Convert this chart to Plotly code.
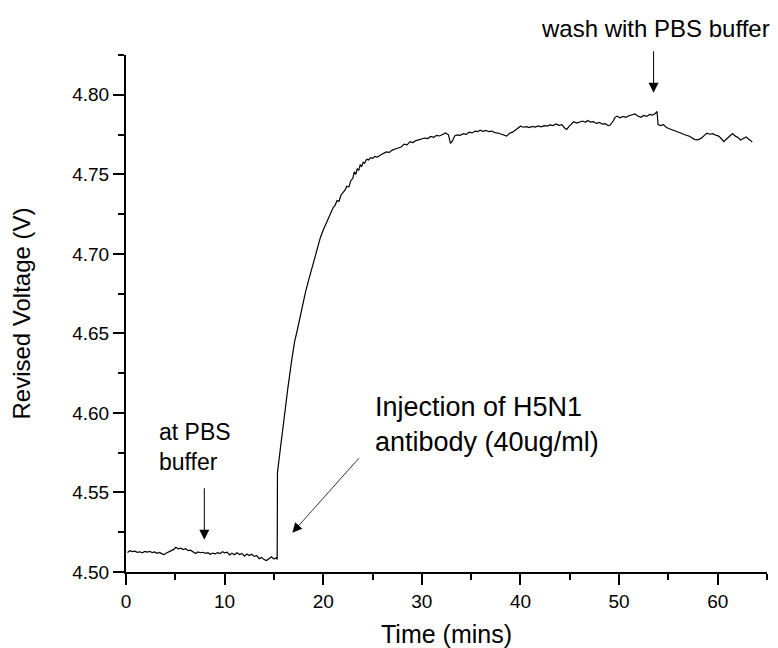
import plotly.graph_objects as go

# ---- data ----
time_baseline = [0.15, 0.4, 0.65, 0.9, 1.15, 1.4, 1.65, 1.9, 2.15, 2.4, 2.65, 2.9, 3.15, 3.4, 3.65, 3.85,
                 4.1, 4.35, 4.6, 4.85, 5.05, 5.3, 5.55, 5.8, 6.05, 6.3, 6.55, 6.8, 7.05, 7.3, 7.55, 7.8,
                 8.05, 8.3, 8.55, 8.8, 9.05, 9.3, 9.55, 9.8, 10.0, 10.25, 10.5, 10.75, 11.0, 11.25, 11.5,
                 11.75, 12.0, 12.25, 12.5, 12.75, 13.0, 13.25, 13.5, 13.75, 14.0, 14.25, 14.5, 14.75,
                 15.0, 15.25, 15.33]
volt_baseline = [4.5122, 4.5134, 4.5128, 4.5131, 4.5124, 4.5127, 4.5121, 4.5129, 4.5125, 4.5130, 4.5122,
                 4.5126, 4.5117, 4.5123, 4.5114, 4.5109, 4.5120, 4.5127, 4.5131, 4.5142, 4.5155, 4.5146,
                 4.5150, 4.5141, 4.5146, 4.5134, 4.5137, 4.5124, 4.5116, 4.5126, 4.5121, 4.5124, 4.5117,
                 4.5121, 4.5111, 4.5119, 4.5114, 4.5122, 4.5116, 4.5128, 4.5120, 4.5125, 4.5107, 4.5118,
                 4.5109, 4.5121, 4.5110, 4.5117, 4.5100, 4.5113, 4.5104, 4.5112, 4.5098, 4.5103, 4.5084,
                 4.5092, 4.5078, 4.5072, 4.5085, 4.5096, 4.5081, 4.5090, 4.5078]

time_binding = [15.36, 15.7, 16.0, 16.4, 16.8, 17.1, 17.35, 17.6, 17.85, 18.2, 18.5, 18.7, 19.0, 19.3,
                19.7, 20.0, 20.3, 20.7, 21.0, 21.2, 21.4, 21.6, 21.8, 22.0, 22.2, 22.4, 22.6, 22.8, 23.0,
                23.15, 23.3, 23.45, 23.6, 23.75, 23.9, 24.05, 24.2, 24.4, 24.6, 24.8, 25.0, 25.25, 25.5,
                25.8, 26.1, 26.4, 26.7, 27.0, 27.3, 27.6, 27.9, 28.2, 28.5, 28.8, 29.1, 29.4, 29.7, 30.0,
                30.3, 30.6, 30.9, 31.2, 31.5, 31.8, 32.1, 32.4, 32.7, 32.9, 33.1, 33.35, 33.6, 33.9, 34.2,
                34.5, 34.8, 35.1, 35.4, 35.7, 35.9, 36.2, 36.5, 36.8, 37.1, 37.4, 37.8, 38.1, 38.4, 38.6,
                38.9, 39.2, 39.5, 39.8, 40.0, 40.3, 40.6, 40.9, 41.2, 41.5, 41.8, 42.1, 42.4, 42.7, 43.0,
                43.3, 43.6, 43.9, 44.2, 44.5, 44.7, 44.9, 45.1, 45.4, 45.7, 46.0, 46.3, 46.6, 46.8, 47.1,
                47.4, 47.7, 48.0, 48.3, 48.6, 48.9, 49.1, 49.4, 49.6, 49.8, 50.1, 50.4, 50.7, 51.0, 51.3,
                51.6, 51.9, 52.2, 52.5, 52.8, 53.1, 53.4, 53.7, 53.85]
volt_binding = [4.5625, 4.5800, 4.5960, 4.6150, 4.6330, 4.6450, 4.6515, 4.6590, 4.6660, 4.6760, 4.6830,
                4.6875, 4.6950, 4.7010, 4.7100, 4.7150, 4.7195, 4.7245, 4.7290, 4.7305, 4.7335, 4.7330,
                4.7370, 4.7385, 4.7400, 4.7425, 4.7420, 4.7460, 4.7475, 4.7515, 4.7500, 4.7535, 4.7525,
                4.7560, 4.7550, 4.7575, 4.7570, 4.7595, 4.7590, 4.7605, 4.7600, 4.7612, 4.7608, 4.7622,
                4.7630, 4.7641, 4.7638, 4.7652, 4.7659, 4.7668, 4.7672, 4.7690, 4.7685, 4.7705, 4.7700,
                4.7712, 4.7718, 4.7720, 4.7728, 4.7725, 4.7738, 4.7733, 4.7745, 4.7741, 4.7752, 4.7760,
                4.7748, 4.7695, 4.7710, 4.7742, 4.7748, 4.7745, 4.7756, 4.7751, 4.7765, 4.7760, 4.7772,
                4.7768, 4.7778, 4.7770, 4.7776, 4.7768, 4.7772, 4.7762, 4.7758, 4.7750, 4.7742, 4.7740,
                4.7758, 4.7765, 4.7778, 4.7790, 4.7802, 4.7796, 4.7800, 4.7794, 4.7801, 4.7797, 4.7804,
                4.7798, 4.7806, 4.7803, 4.7810, 4.7806, 4.7816, 4.7808, 4.7812, 4.7790, 4.7782, 4.7800,
                4.7815, 4.7830, 4.7822, 4.7828, 4.7835, 4.7827, 4.7838, 4.7828, 4.7831, 4.7820, 4.7826,
                4.7815, 4.7818, 4.7806, 4.7810, 4.7835, 4.7858, 4.7866, 4.7855, 4.7864, 4.7858, 4.7868,
                4.7872, 4.7880, 4.7866, 4.7858, 4.7870, 4.7864, 4.7876, 4.7872, 4.7884, 4.7895]

time_wash = [53.95, 54.2, 54.5, 54.8, 55.1, 55.4, 55.7, 56.0, 56.3, 56.6, 56.9, 57.2, 57.5, 57.8, 58.1,
             58.4, 58.7, 58.9, 59.2, 59.5, 59.8, 60.1, 60.4, 60.6, 60.9, 61.2, 61.5, 61.8, 62.1, 62.3,
             62.6, 62.9, 63.1, 63.3, 63.5]
volt_wash = [4.7812, 4.7806, 4.7812, 4.7794, 4.7786, 4.7780, 4.7770, 4.7766, 4.7758, 4.7750, 4.7743,
             4.7738, 4.7724, 4.7716, 4.7720, 4.7730, 4.7748, 4.7758, 4.7752, 4.7755, 4.7746, 4.7740,
             4.7722, 4.7705, 4.7722, 4.7738, 4.7756, 4.7740, 4.7730, 4.7716, 4.7728, 4.7735, 4.7722,
             4.7715, 4.7702]

x_ticks = [0, 10, 20, 30, 40, 50, 60]
y_ticks = [4.50, 4.55, 4.60, 4.65, 4.70, 4.75, 4.80]

time = time_baseline + time_binding + time_wash
volt = volt_baseline + volt_binding + volt_wash

FONT = "Liberation Sans, Arial, sans-serif"

fig = go.Figure()
fig.add_trace(go.Scatter(x=time, y=volt, mode="lines",
                         line=dict(color="black", width=1.2), showlegend=False))

axis_common = dict(showline=True, linecolor="black", linewidth=2, showgrid=False, zeroline=False,
                   ticks="outside", ticklen=11, tickwidth=2, tickcolor="black", mirror=False,
                   tickfont=dict(family=FONT, size=19, color="black"))

fig.update_xaxes(range=[0, 65], tickvals=x_ticks, ticktext=[str(v) for v in x_ticks],
                 minor=dict(dtick=5, tick0=0, ticks="outside", ticklen=6, tickwidth=2, tickcolor="black"),
                 title=dict(text="Time (mins)", font=dict(family=FONT, size=25, color="black"), standoff=18),
                 **axis_common)
fig.update_yaxes(range=[4.50, 4.825], tickvals=y_ticks, ticktext=[f"{v:.2f}" for v in y_ticks],
                 minor=dict(dtick=0.025, tick0=4.5, ticks="outside", ticklen=6, tickwidth=2, tickcolor="black"),
                 title=dict(text="Revised Voltage (V)", font=dict(family=FONT, size=24, color="black"), standoff=35),
                 **axis_common)

ann_font = dict(family=FONT, color="black")
# arrows
fig.add_annotation(x=7.94, y=4.5203, ax=7.94, ay=4.5536, xref="x", yref="y", axref="x", ayref="y",
                   text="", showarrow=True, arrowhead=2, arrowsize=2.0, arrowwidth=1, arrowcolor="black",
                   standoff=0)
fig.add_annotation(x=53.5, y=4.8013, ax=53.5, ay=4.8283, xref="x", yref="y", axref="x", ayref="y",
                   text="", showarrow=True, arrowhead=2, arrowsize=2.0, arrowwidth=1, arrowcolor="black",
                   standoff=0)
fig.add_annotation(x=16.87, y=4.5247, ax=23.76, ay=4.5725, xref="x", yref="y", axref="x", ayref="y",
                   text="", showarrow=True, arrowhead=2, arrowsize=2.4, arrowwidth=0.8, arrowcolor="black",
                   standoff=0)
# texts
fig.add_annotation(x=53.7, y=1.052, xref="x", yref="paper", text="wash with PBS buffer", showarrow=False,
                   xanchor="center", yanchor="middle", font=dict(size=24, **ann_font))
fig.add_annotation(x=3.17, y=4.5784, xref="x", yref="y", text="at PBS<br>buffer", showarrow=False,
                   xanchor="left", yanchor="middle", align="left", font=dict(size=23, **ann_font))
fig.add_annotation(x=25.07, y=4.5926, xref="x", yref="y", text="Injection of H5N1<br>antibody (40ug/ml)",
                   showarrow=False, xanchor="left", yanchor="middle", align="left", font=dict(size=27, **ann_font))

# the page body adds an 8 px margin, so the figure is 8 px smaller than the window
fig.update_layout(width=770, height=640, plot_bgcolor="white", paper_bgcolor="white",
                  margin=dict(l=118, r=11, t=47, b=76, autoexpand=False),
                  font=dict(family=FONT, color="black"))

fig.write_html("out.html")
